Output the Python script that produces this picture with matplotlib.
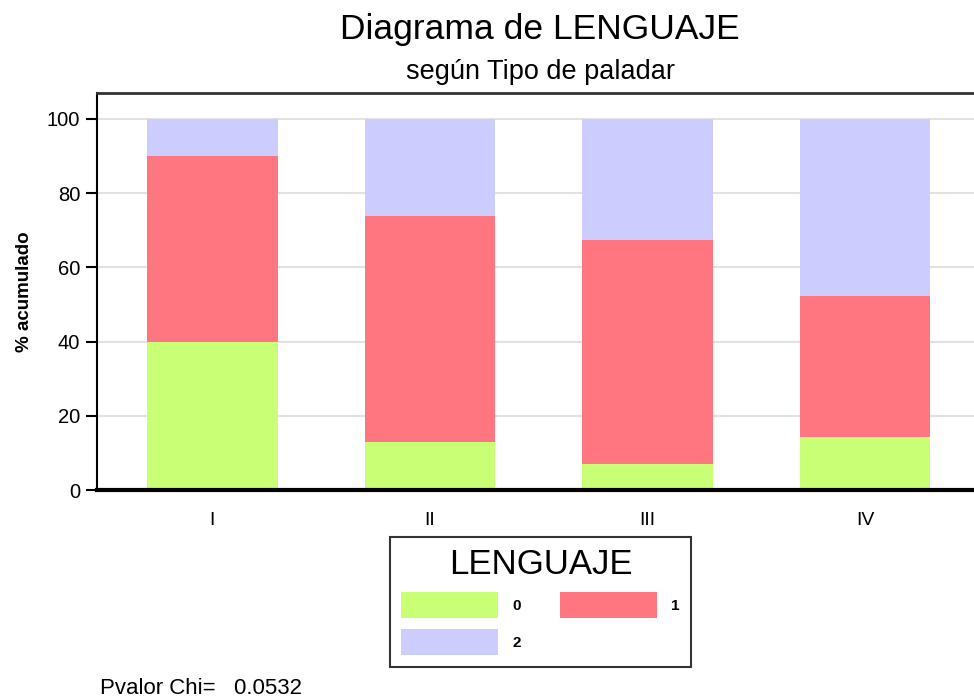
import matplotlib
matplotlib.use('Agg')
import matplotlib.pyplot as plt
import numpy as np

plt.rcParams['font.family'] = ['Liberation Sans', 'DejaVu Sans']

# data (percentages per group)
groups = ['I', 'II', 'III', 'IV']
levels = ['0', '1', '2']
pct_0 = [40.0, 13.04, 7.0, 14.29]
pct_1 = [50.0, 60.87, 60.4, 38.09]
pct_2 = [10.0, 26.09, 32.6, 47.62]
colors = ['#C8FF74', '#FF7580', '#CCCCFF']

fig = plt.figure(figsize=(9.74, 6.97), dpi=100)
ax = fig.add_axes([97 / 974, 1 - 490 / 697, 1 - 97 / 974, (490 - 93) / 697])

x = np.arange(1, len(groups) + 1)
bottom = np.zeros(len(groups))
bars = []
for vals, col, lab in zip([pct_0, pct_1, pct_2], colors, levels):
    b = ax.bar(x, vals, width=0.6, bottom=bottom, color=col, label=lab, zorder=2)
    bars.append(b)
    bottom += np.array(vals)

ax.set_xlim(0.47, 4.5)
ax.set_ylim(0, 107)
ax.set_yticks([0, 20, 40, 60, 80, 100])
ax.set_xticks(x)
ax.set_xticklabels(groups)
ax.yaxis.grid(True, color='#E2E2E2', linewidth=1.5, zorder=0)
ax.set_axisbelow(True)

ax.tick_params(axis='y', length=8, width=1.5, labelsize=14.5, pad=4)
ax.tick_params(axis='x', length=0, labelsize=14, pad=16)
ax.spines['right'].set_visible(False)
ax.spines['left'].set_linewidth(1.5)
ax.spines['bottom'].set_linewidth(3)
ax.spines['top'].set_linewidth(2)
ax.spines['top'].set_color('#333333')

ax.set_ylabel('% acumulado', fontsize=13.5, fontweight='bold', labelpad=10)

fig.text(540 / 974, 1 - 30 / 697, 'Diagrama de LENGUAJE', fontsize=25.5,
         ha='center', va='center')
fig.text(540 / 974, 1 - 72 / 697, 'según Tipo de paladar', fontsize=19.5,
         ha='center', va='center')

# legend laid out row by row: 0, 1 / 2
handles = [bars[0], bars[2], bars[1]]
labels = ['0', '2', '1']
leg = fig.legend(handles, labels, title='LENGUAJE', ncol=2,
                 loc='upper left', bbox_to_anchor=(390 / 974, 1 - 537 / 697),
                 fontsize=11, title_fontsize=25, frameon=True, fancybox=False,
                 edgecolor='black', handlelength=6.35, handleheight=2.24,
                 handletextpad=0.9, columnspacing=2.6, labelspacing=0.72,
                 borderpad=0.75, borderaxespad=0)
leg.get_frame().set_linewidth(1.5)
for t in leg.get_texts():
    t.set_fontweight('bold')

fig.text(100 / 974, 1 - 688 / 697, 'Pvalor Chi=   0.0532', fontsize=16,
         ha='left', va='center')

fig.savefig('out.png', dpi=100)
